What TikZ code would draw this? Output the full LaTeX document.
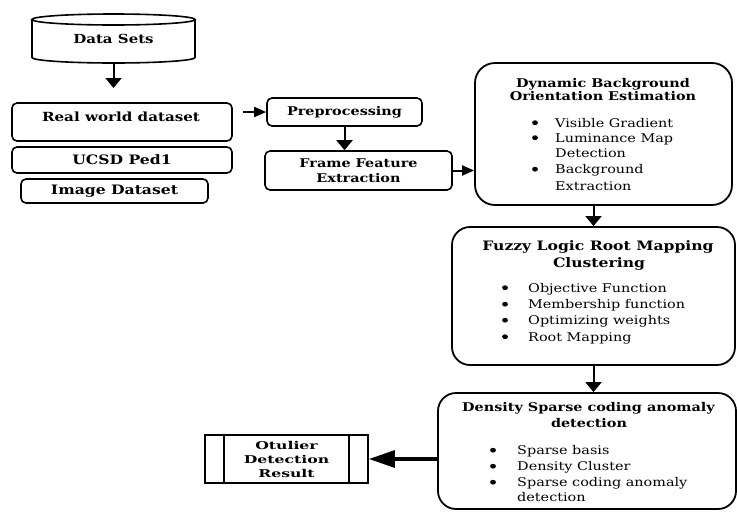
\documentclass[tikz,border=0pt]{standalone}
\usepackage{fontspec}
\setmainfont{DejaVu Serif}[FakeStretch=1.2]
\newfontfamily\widefont{DejaVu Serif}[FakeStretch=1.45]
\usetikzlibrary{arrows.meta}
\begin{document}
\begin{tikzpicture}[x=1pt,y=-1pt,
  box/.style={draw, line width=1.6pt, rounded corners=5pt, inner sep=0pt, align=center,
    font=\bfseries\fontsize{12}{15}\selectfont},
  bigbox/.style={draw, line width=1.8pt, rounded corners=20pt, inner sep=0pt},
  hd/.style={font=\bfseries\fontsize{12}{15}\selectfont, inner sep=0pt, anchor=base},
  itm/.style={font=\fontsize{12}{15}\selectfont, inner sep=0pt, anchor=base west},
  arr/.style={line width=2pt, -{Triangle[length=10pt,width=16pt]}},
  arrs/.style={line width=2pt, -{Triangle[length=12pt,width=10pt]}},
  arrb/.style={line width=3.3pt, -{Triangle[length=26pt,width=17pt]}}
]
\useasboundingbox (0,0) rectangle (737,512);

% Data Sets cylinder
\node[font=\bfseries\fontsize{12.5}{15}\selectfont, inner sep=0pt,
      minimum width=163pt, minimum height=49pt] (ds) at (113.5,38.5) {Data Sets};
\draw[line width=1.6pt] (32,19.5) -- (32,57.5)
   arc[start angle=180, end angle=360, x radius=81.5pt, y radius=5.5pt] -- (195,19.5);
\draw[line width=1.6pt] (113.5,19.5) ellipse [x radius=81.5pt, y radius=5.5pt];

% left column
\node[box, minimum width=220pt, minimum height=38pt] (rw) at (122,122) {};
\node[hd, font=\bfseries\fontsize{12.6}{15}\selectfont] (rwt) at (121,121.5) {Real world dataset};
\node[box, font=\bfseries\fontsize{13}{15}\selectfont, minimum width=220pt, minimum height=26pt] (ucsd) at (122,160) {UCSD Ped1};
\node[box, font=\bfseries\fontsize{13}{15}\selectfont, minimum width=187pt, minimum height=24pt] (img) at (114.5,191) {Image Dataset};

% middle column
\node[box, minimum width=155pt, minimum height=28pt] (prep) at (344.5,112) {Preprocessing};
\node[box, minimum width=187pt, minimum height=39pt] (ffe) at (358.5,170.5) {Frame Feature\\Extraction};

% Dynamic background
\node[bigbox, minimum width=257pt, minimum height=142pt] (dboe) at (603.5,134) {};
\node[hd] (d0) at (603,87) {Dynamic Background};
\node[hd] (d00) at (603,100.5) {Orientation Estimation};
\node[itm] (d1) at (555,127) {Visible Gradient};
\node[itm] (d2) at (555,142) {Luminance Map};
\node[itm] (d3) at (555,157.5) {Detection};
\node[itm] (d4) at (555,173.5) {Background};
\node[itm] (d5) at (555,190) {Extraction};
\foreach \n in {d1,d2,d4}
  \fill ([xshift=-20pt,yshift=4.3pt]\n.base west) ellipse [x radius=2.9pt, y radius=2.4pt];

% Fuzzy
\node[bigbox, rounded corners=18pt, minimum width=283pt, minimum height=138pt] (fuzzy) at (593.5,296) {};
\node[hd, font=\bfseries\fontsize{13}{15}\selectfont] (f0) at (598,250.5) {Fuzzy Logic Root Mapping};
\node[hd, font=\bfseries\fontsize{13}{15}\selectfont] (f00) at (599,267) {Clustering};
\node[itm] (f1) at (528,292) {Objective Function};
\node[itm] (f2) at (528,308.5) {Membership function};
\node[itm] (f3) at (528,324.5) {Optimizing weights};
\node[itm] (f4) at (528,341) {Root Mapping};
\foreach \n in {f1,f2,f3,f4}
  \fill ([xshift=-23pt,yshift=4.3pt]\n.base west) ellipse [x radius=2.9pt, y radius=2.4pt];

% Density
\node[bigbox, rounded corners=18pt, minimum width=298pt, minimum height=116pt] (density) at (587,451) {};
\node[hd] (s0) at (588.5,411.5) {Density Sparse coding anomaly};
\node[hd] (s00) at (589,427.5) {detection};
\node[itm] (s1) at (517,454.5) {Sparse basis};
\node[itm] (s2) at (517,470.5) {Density Cluster};
\node[itm] (s3) at (517,486.5) {Sparse coding anomaly};
\node[itm] (s4) at (517,501.5) {detection};
\foreach \n in {s1,s2,s3}
  \fill ([xshift=-24pt,yshift=4.3pt]\n.base west) ellipse [x radius=2.9pt, y radius=2.4pt];

% Output
\node[draw, line width=1.8pt, minimum width=163pt, minimum height=48pt, inner sep=0pt, align=center,
      font=\widefont\bfseries\fontsize{10.8}{14}\selectfont] (out) at (286.5,459) {Otulier\\Detection\\Result};
\draw[line width=1.8pt] ([xshift=20pt]out.north west) -- ([xshift=20pt]out.south west);
\draw[line width=1.8pt] ([xshift=-20pt]out.north east) -- ([xshift=-20pt]out.south east);

% connectors
\coordinate (a1) at (113.5,88);
\draw[arr] (ds.south) -- (a1);
\coordinate (a2) at (243,112);
\draw[arrs] (a2) -- (prep.west);
\draw[arr] (prep.south) -- (prep.south |- ffe.north);
\draw[arrs] (ffe.east) -- (ffe.east -| dboe.west);
\draw[arr] (fuzzy.north |- dboe.south) -- (fuzzy.north);
\draw[arr] (fuzzy.south) -- (fuzzy.south |- density.north);
\draw[arrb] (density.west |- out.east) -- (out.east);
\end{tikzpicture}
\end{document}
